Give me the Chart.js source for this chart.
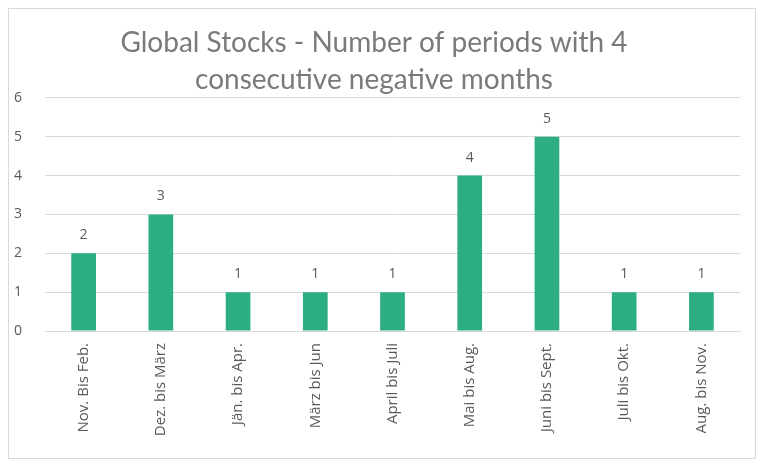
<!DOCTYPE html>
<html>
<head>
<meta charset="utf-8">
<script src="https://cdn.jsdelivr.net/npm/chart.js@4/dist/chart.umd.min.js"></script>
<style>
    html, body { margin: 0; padding: 0; background: #fff; }
    #wrap { position: relative; width: 770px; height: 466px; }
    #frame { position: absolute; left: 8px; top: 8px; width: 746px; height: 449px; border: 1px solid #d9d9d9; pointer-events: none; }
</style>
</head>
<body>
<div id="wrap">
    <canvas id="stocksChart" width="770" height="466"></canvas>
    <div id="frame"></div>
</div>
<script>
let periods = ['Nov. Bis Feb.', 'Dez. bis März', 'Jän. bis Apr.', 'März bis Jun', 'April bis Juli',
    'Mai bis Aug.', 'Juni bis Sept.', 'Juli bis Okt.', 'Aug. bis Nov.'];
let counts = [2, 3, 1, 1, 1, 4, 5, 1, 1];
let yTicks = [0, 1, 2, 3, 4, 5, 6];
let chartTitle = ['Global Stocks - Number of periods with 4', 'consecutive negative months'];

// value labels over each bar
let barLabels = {
    id: 'barLabels',
    afterDatasetsDraw(chart) {
        let ctx = chart.ctx;
        let meta = chart.getDatasetMeta(0);
        ctx.save();
        ctx.fillStyle = '#595959';
        ctx.font = '14px "Open Sans"';
        ctx.textAlign = 'center';
        ctx.textBaseline = 'bottom';
        meta.data.forEach(function (bar, i) {
            ctx.fillText(String(counts[i]), bar.x, bar.y - 11);
        });
        ctx.restore();
    }
};

let stocksCanvas = document.getElementById('stocksChart');
new Chart(stocksCanvas, {
    type: 'bar',
    data: {
        labels: periods,
        datasets: [{
            data: counts,
            backgroundColor: '#2dae82',
            borderWidth: 0,
            barPercentage: 0.32,
            categoryPercentage: 1
        }]
    },
    options: {
        responsive: false,
        animation: false,
        layout: { padding: { left: 8, right: 30, top: 0, bottom: 10 } },
        plugins: {
            legend: { display: false },
            tooltip: { enabled: false },
            title: {
                display: true,
                text: chartTitle,
                color: '#7a7a7a',
                font: { family: 'Lato', size: 28, weight: 'normal', lineHeight: 1.3 },
                padding: { top: 25, bottom: 0 }
            }
        },
        scales: {
            x: {
                grid: { display: false },
                border: { display: true, color: '#d9d9d9' },
                ticks: {
                    color: '#595959',
                    font: { family: 'Open Sans', size: 15 },
                    maxRotation: 90,
                    minRotation: 90,
                    padding: 4
                },
                afterFit(scale) { scale.height = 125; }
            },
            y: {
                min: 0,
                max: 6,
                afterBuildTicks(scale) { scale.ticks = yTicks.map(v => ({ value: v })); },
                grid: { color: '#d9d9d9', drawTicks: false },
                border: { display: false },
                ticks: {
                    color: '#595959',
                    font: { family: 'Open Sans', size: 14 },
                    padding: 23
                },
                afterFit(scale) { scale.width = 37; }
            }
        }
    },
    plugins: [barLabels]
});
</script>
</body>
</html>
